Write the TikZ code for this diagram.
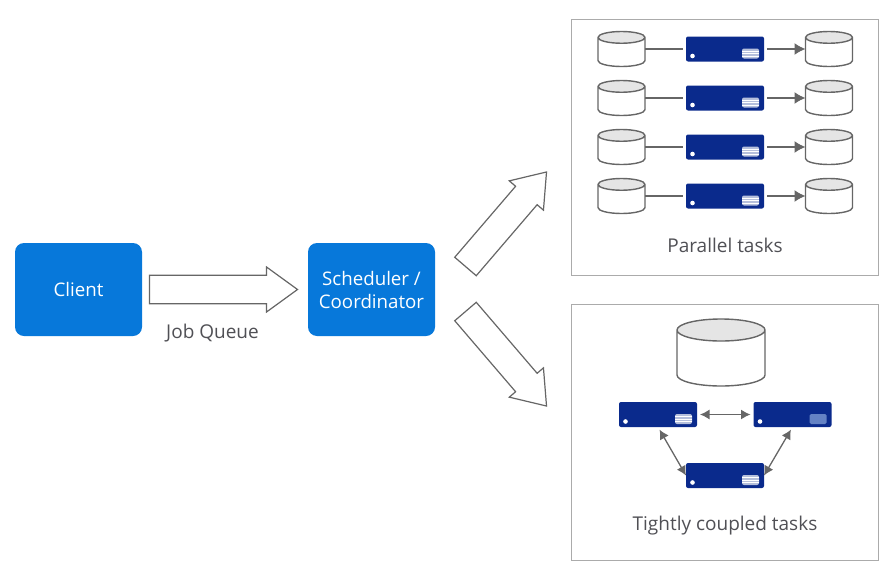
\documentclass[tikz,border=0pt]{standalone}
\usepackage{fontspec}
\setmainfont{Open Sans}
\usetikzlibrary{positioning}
\usetikzlibrary{arrows.meta}
\usetikzlibrary{shapes.geometric,shapes.arrows}
\definecolor{clientblue}{HTML}{0778DA}
\definecolor{serverblue}{HTML}{0A2A8C}
\definecolor{linegray}{HTML}{666666}
\definecolor{panelgray}{HTML}{ABABAB}
\definecolor{textgray}{HTML}{505055}
\definecolor{ventgray}{HTML}{B5BFDC}
\definecolor{ventblue}{HTML}{6482C4}

\begin{document}
\begin{tikzpicture}[x=1pt,y=-1pt,every node/.style={outer sep=0pt},
 block/.style={fill=clientblue,rounded corners=9pt,minimum width=127pt,minimum height=93pt,
 text=white,align=center,font=\fontsize{18.7}{23}\selectfont},
 panel/.style={draw=panelgray,line width=1pt,minimum width=307pt,minimum height=256pt},
 caption/.style={text=textgray,font=\fontsize{19}{22}\selectfont},
 bigarrow/.style={draw=linegray,line width=1.2pt,fill=white,single arrow,inner sep=11.5pt,
 minimum width=45pt,single arrow tip angle=72,single arrow head indent=0pt,anchor=tail},
 disk/.style={draw=linegray,line width=1.4pt,shape=cylinder,shape border rotate=90,shape aspect=.25,
 cylinder uses custom fill,cylinder body fill=white,cylinder end fill=black!10,
 inner xsep=23.5pt,inner ysep=0pt,minimum height=35pt,anchor=shape center},
 bigdisk/.style={disk,inner xsep=44pt,minimum height=67pt},
 server/.style={fill=serverblue,rounded corners=2pt,minimum width=78pt,minimum height=25pt,inner sep=0pt,
 path picture={
 \fill[white] ([shift={(6.5pt,5.5pt)}]path picture bounding box.south west) circle (2.3pt);
 \fill[ventgray] ([shift={(-22pt,3pt)}]path picture bounding box.south east) rectangle ++(17pt,10pt);
 \foreach \Y in {5.5,8,10.5}
 {\draw[white,line width=.7pt] ([shift={(-22pt,\Y pt)}]path picture bounding box.south east) -- ++(17pt,0pt);}
 }},
 serverb/.style={server,path picture={
 \fill[white] ([shift={(6.5pt,5.5pt)}]path picture bounding box.south west) circle (2.3pt);
 \fill[ventblue,rounded corners=1.5pt] ([shift={(-22pt,3pt)}]path picture bounding box.south east) rectangle ++(17pt,10pt);
 }},
 wire/.style={draw=linegray,line width=1.3pt},
 wirearrow/.style={wire,-{Latex[length=11pt,width=12pt]},shorten <=3pt},
 bothways/.style={wire,{Latex[length=9.5pt,width=10pt]}-{Latex[length=9.5pt,width=10pt]}}]

  \useasboundingbox (0,0) rectangle (888,570);

  \node[block] (client) at (78.5,289.5) {Client};
  \node[block] (sched) at (371.5,289.5) {Scheduler /\\Coordinator};
  \node[panel] (par) at (724.5,147.5) {};
  \node[panel] (tight) at (724.5,432) {};

  \node[bigarrow,minimum height=148pt] (toqueue) at (149.5,289.5) {};
  \node[caption] (jobq) at (212.5,333) {Job Queue};
  \node[bigarrow,minimum height=124.5pt,rotate=49.4] (topar) at (465.5,266.5) {};
  \node[bigarrow,minimum height=124.5pt,rotate=-49.4] (totight) at (465.5,311.5) {};

  % parallel rows
  \node[server] (srv1) at (725,49) {};
  \foreach \X/\Y in {2/1,3/2,4/3}
   {\node[server,below=24pt of srv\Y] (srv\X) {};}
  \foreach \X in {1,...,4}
  {\node[disk,xshift=-103.5pt] (in\X) at (srv\X) {};
   \node[disk,xshift=104pt] (out\X) at (srv\X) {};
   \draw[wire,shorten >=3pt] (in\X.east|-srv\X) -- (srv\X);
   \draw[wirearrow] (srv\X) -- (out\X.west|-srv\X);
  }
  \node[caption] (partxt) at (725,245) {Parallel tasks};

  % coupled servers
  \node[bigdisk] (store) at (721,352.5) {};
  \node[server] (nodea) at (658,414.5) {};
  \node[serverb] (nodeb) at (792.5,414.5) {};
  \node[server] (nodec) at (725,475.5) {};
  \draw[bothways,shorten <=3pt,shorten >=3pt] (nodea) -- (nodeb);
  \draw[bothways,shorten <=3pt] (nodea.south) -- (nodec.west);
  \draw[bothways,shorten <=3pt] (nodeb.south) -- (nodec.east);
  \node[caption] (tighttxt) at (725,526) {Tightly coupled tasks};

\end{tikzpicture}
\end{document}
